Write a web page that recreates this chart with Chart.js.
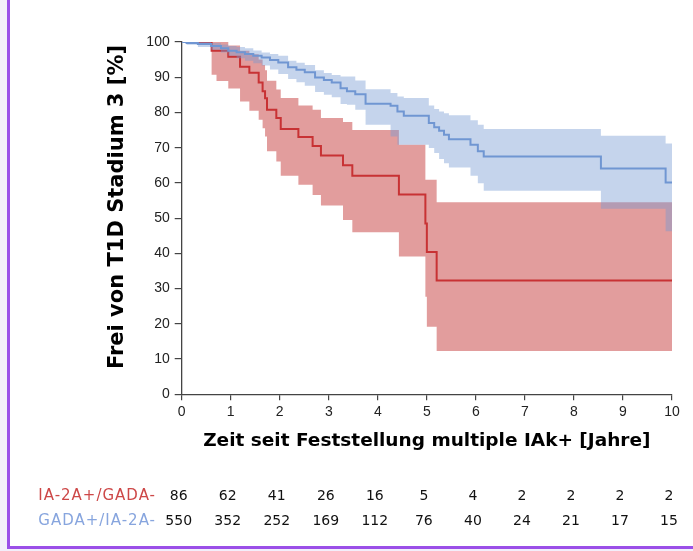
<!DOCTYPE html>
<html><head><meta charset="utf-8">
<script src="https://cdn.jsdelivr.net/npm/chart.js@4.4.0/dist/chart.umd.min.js"></script>
<style>
html,body{margin:0;padding:0;background:#fff;}
#wrap{position:relative;width:693px;height:551px;overflow:hidden;background:#fff;}
canvas{position:absolute;left:0;top:0;}
.deco{position:absolute;}
</style></head>
<body><div id="wrap">
<canvas id="c" width="693" height="551"></canvas>
<div class="deco" style="left:0;top:0;width:7px;height:551px;background:#f3eefa;"></div>
<div class="deco" style="left:7px;top:0;width:3px;height:549px;background:#9b4fe8;"></div>
<div class="deco" style="left:7px;top:546px;width:686px;height:3px;background:#9b4fe8;"></div>
<div class="deco" style="left:0;top:549px;width:693px;height:2px;background:#f3eefa;"></div>
</div>
<script>
// ---- data ----
const redTimes  = [0, 0.61, 0.71, 0.95, 1.19, 1.38, 1.57, 1.65, 1.70, 1.74, 1.93, 2.02, 2.38, 2.67, 2.84, 3.29, 3.48, 4.43, 4.97, 5.00, 5.20, 10];
const redSurv   = [100, 97.5, 97.5, 95.8, 93.0, 91.3, 88.5, 86.0, 84.0, 80.8, 78.4, 75.3, 73.0, 70.5, 67.8, 65.0, 62.0, 56.7, 48.5, 40.4, 32.3, 32.3];
const redUpper  = [100, 100, 100, 99.0, 97.5, 96.5, 95.0, 93.5, 92.0, 89.0, 86.5, 84.1, 82.0, 80.8, 78.4, 77.3, 75.0, 70.8, 60.9, 60.9, 54.5, 54.5];
const redLower  = [100, 90.7, 88.9, 86.8, 83.1, 80.5, 77.9, 75.5, 73.2, 69.0, 66.1, 62.0, 59.5, 56.6, 53.6, 49.5, 46.0, 39.1, 27.7, 19.2, 12.3, 12.3];

const blueTimes = [0, 0.1, 0.33, 0.6, 0.8, 0.95, 1.12, 1.29, 1.46, 1.63, 1.8, 1.97, 2.17, 2.34, 2.51, 2.72, 2.9, 3.06, 3.24, 3.37, 3.54, 3.75, 4.26, 4.40, 4.53, 5.04, 5.15, 5.25, 5.35, 5.45, 5.89, 6.04, 6.16, 8.55, 9.87, 10];
const blueSurv  = [100, 99.7, 99.4, 98.9, 98.2, 97.5, 97.1, 96.6, 96.1, 95.6, 94.9, 94.2, 92.8, 92.1, 91.4, 89.9, 89.2, 88.5, 86.9, 86.0, 85.2, 82.5, 81.9, 80.3, 79.1, 77.0, 75.8, 74.8, 73.7, 72.4, 70.8, 69.0, 67.5, 64.1, 60.1, 60.1];
const blueUpper = [100, 100, 100, 99.7, 99.3, 98.9, 98.6, 98.2, 97.6, 97.0, 96.6, 96.1, 94.7, 94.1, 93.5, 92.0, 91.2, 90.6, 90.2, 90.2, 89.1, 86.6, 85.5, 84.5, 84.1, 82.0, 81.0, 80.3, 79.8, 79.2, 77.8, 76.5, 75.3, 73.4, 71.2, 71.2];
const blueLower = [100, 99.2, 98.6, 97.8, 97.0, 96.1, 95.4, 94.7, 94.0, 93.3, 92.2, 90.9, 89.5, 88.6, 87.6, 85.8, 85.0, 84.3, 82.4, 82.2, 80.8, 76.5, 73.2, 70.8, 70.8, 69.9, 68.5, 66.8, 65.6, 64.4, 62.0, 59.9, 57.8, 52.7, 46.3, 46.3];

const groupLabels = ['IA-2A+/GADA-', 'GADA+/IA-2A-'];
const riskTimes = [0, 1, 2, 3, 4, 5, 6, 7, 8, 9, 10];
const riskRed   = [86, 62, 41, 26, 16, 5, 4, 2, 2, 2, 2];
const riskBlue  = [550, 352, 252, 169, 112, 76, 40, 24, 21, 17, 15];

const xTitle = 'Zeit seit Feststellung multiple IAk+ [Jahre]';
const yTitle = 'Frei von T1D Stadium 3 [%]';

// ---- styles ----
const redLine = 'rgb(200,50,52)';
const redBand = 'rgba(198,60,60,0.5)';
const blueLine = 'rgb(112,150,210)';
const blueBand = 'rgba(117,152,210,0.42)';
const axisCol = '#444';
const tickFont = {family: "'Liberation Sans', Arial, Helvetica, sans-serif", size: 14};

const mk = (ts, vs) => ts.map((t, i) => ({x: t, y: vs[i]}));
const lineDs = (label, data, color) => ({label, data, borderColor: color, borderWidth: 2, stepped: true, pointRadius: 0, fill: false});
const bandDs = (label, data, color, fill) => ({label, data, borderColor: 'rgba(0,0,0,0)', borderWidth: 0, backgroundColor: color, stepped: true, pointRadius: 0, fill});

const textPlugin = {
  id: 'texts',
  afterDraw(chart) {
    const ctx = chart.ctx;
    const xs = chart.scales.x;
    ctx.save();
    ctx.fillStyle = '#000';
    // y title
    ctx.save();
    ctx.translate(118, 207);
    ctx.rotate(-Math.PI / 2);
    ctx.font = 'bold 21px "DejaVu Sans"';
    ctx.textAlign = 'center';
    ctx.textBaseline = 'middle';
    ctx.fillText(yTitle, 0, 0);
    ctx.restore();
    // x title
    ctx.font = 'bold 18.5px "DejaVu Sans"';
    ctx.textAlign = 'center';
    ctx.textBaseline = 'middle';
    ctx.fillText(xTitle, (xs.left + xs.right) / 2, 441);
    // risk table
    const rows = [{y: 496, col: 'rgb(205,72,72)', vals: riskRed}, {y: 521, col: 'rgb(135,165,222)', vals: riskBlue}];
    rows.forEach((r, k) => {
      ctx.font = '15px "DejaVu Sans"';
      if ('letterSpacing' in ctx) ctx.letterSpacing = '1px';
      ctx.textAlign = 'right';
      ctx.fillStyle = r.col;
      ctx.fillText(groupLabels[k], 156, r.y);
      if ('letterSpacing' in ctx) ctx.letterSpacing = '0px';
      ctx.font = '14px "DejaVu Sans"';
      ctx.textAlign = 'center';
      ctx.fillStyle = '#111';
      r.vals.forEach((v, i) => ctx.fillText(String(v), xs.getPixelForValue(riskTimes[i]) - 3, r.y));
    });
    ctx.restore();
  }
};

new Chart(document.getElementById('c'), {
  type: 'line',
  data: {
    datasets: [
      lineDs(groupLabels[1], mk(blueTimes, blueSurv), blueLine),
      bandDs('blue upper', mk(blueTimes, blueUpper), blueBand, '+1'),
      bandDs('blue lower', mk(blueTimes, blueLower), blueBand, false),
      lineDs(groupLabels[0], mk(redTimes, redSurv), redLine),
      bandDs('red upper', mk(redTimes, redUpper), redBand, '+1'),
      bandDs('red lower', mk(redTimes, redLower), redBand, false)
    ]
  },
  options: {
    responsive: false,
    animation: false,
    plugins: {legend: {display: false}, tooltip: {enabled: false}},
    layout: {padding: {left: 0, top: 42, right: 21, bottom: 96}},
    scales: {
      x: {
        type: 'linear', min: 0, max: 10,
        ticks: {stepSize: 1, color: '#222', font: tickFont, padding: 3, maxRotation: 0},
        grid: {drawOnChartArea: false, tickLength: 6, color: axisCol, lineWidth: 1.2},
        border: {color: axisCol, width: 1.3},
        afterFit(s) { s.height = 60.7; }
      },
      y: {
        min: 0, max: 100,
        ticks: {stepSize: 10, color: '#222', font: tickFont, padding: 5},
        grid: {drawOnChartArea: false, tickLength: 7, color: axisCol, lineWidth: 1.2},
        border: {color: axisCol, width: 1.3},
        afterFit(s) { s.width = 181.7; }
      }
    }
  },
  plugins: [textPlugin]
});
</script>
</body></html>
